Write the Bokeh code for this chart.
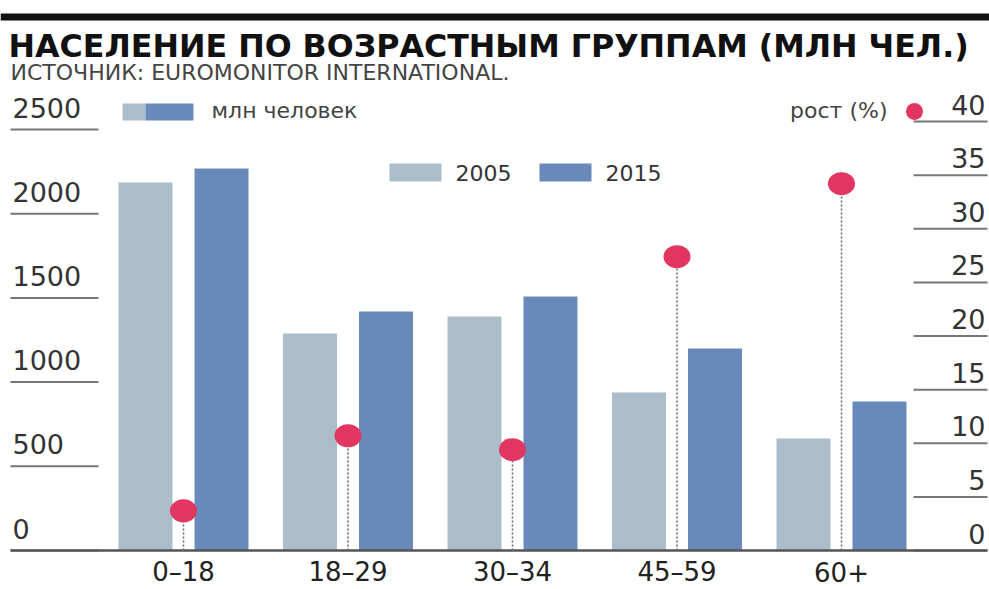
from bokeh.plotting import figure, ColumnDataSource
from bokeh.models import Range1d
from bokeh.transform import dodge
from bokeh.core.properties import value
from bokeh.embed import file_html
from bokeh.resources import INLINE

# ---- data ----
categories = ["0–18", "18–29", "30–34", "45–59", "60+"]
pop_2005 = [2185, 1289, 1390, 938, 665]
pop_2015 = [2268, 1419, 1508, 1199, 885]
growth_pct = [3.7, 10.7, 9.4, 27.4, 34.2]
left_ticks = [0, 500, 1000, 1500, 2000, 2500]
right_ticks = [0, 5, 10, 15, 20, 25, 30, 35, 40]
years = ["2005", "2015"]

title_text = "НАСЕЛЕНИЕ ПО ВОЗРАСТНЫМ ГРУППАМ (МЛН ЧЕЛ.)"
subtitle_text = "ИСТОЧНИК: EUROMONITOR INTERNATIONAL."
legend_units = "млн человек"
legend_growth = "рост (%)"

# ---- style ----
C_LIGHT = "#aabdc9"
C_DARK = "#6889b9"
C_DOT = "#e0365f"
C_TEXT = "#333333"
FONT = value("DejaVu Sans")
BL = 0.37  # baseline correction (fraction of font size)

W, H = 989, 589
p = figure(width=W, height=H, output_backend="svg", toolbar_location=None,
           x_range=Range1d(-1.1125, 4.8997), y_range=Range1d(-231.6, 3266.0),
           x_axis_location=None, y_axis_location=None, min_border=0,
           outline_line_color=None, background_fill_color="white",
           border_fill_color="white")
p.extra_y_ranges = {"pct": Range1d(-3.636, 51.282), "px": Range1d(589, 0)}
p.extra_x_ranges = {"px": Range1d(0, 989)}
p.xgrid.visible = False
p.ygrid.visible = False

n = len(categories)
src = ColumnDataSource(dict(idx=list(range(n)), cat=categories,
                            v05=pop_2005, v15=pop_2015, g=growth_pct,
                            zero=[0] * n))


def txt(x, y, s, size, **kw):
    p.text(x=[x], y=[y - BL * size], text=[s], x_range_name="px", y_range_name="px",
           text_font_size=f"{size}px", text_baseline="alphabetic", **kw)


# top rule and titles
p.segment(x0=[0], x1=[989], y0=[16.5], y1=[16.5], x_range_name="px", y_range_name="px",
          line_color="#111111", line_width=7)
txt(8, 57, title_text, 31.7, text_font=FONT, text_font_style="bold", text_color="#111111")
txt(10, 80, subtitle_text, 22, text_font=FONT, text_color="#444444")

# left axis underlines + labels
p.segment(x0=[10] * len(left_ticks), x1=[98] * len(left_ticks), y0=left_ticks, y1=left_ticks,
          x_range_name="px", line_color="#777777", line_width=2)
p.text(x=[12] * len(left_ticks), y=left_ticks, text=[str(t) for t in left_ticks],
       x_range_name="px", y_offset=-(12 + BL * 27), text_font=FONT, text_font_size="27px",
       text_color=C_TEXT, text_baseline="alphabetic")

# right axis underlines + labels
p.segment(x0=[913] * len(right_ticks), x1=[987] * len(right_ticks), y0=right_ticks, y1=right_ticks,
          x_range_name="px", y_range_name="pct", line_color="#777777", line_width=2)
p.text(x=[985] * len(right_ticks), y=right_ticks, text=[str(t) for t in right_ticks],
       x_range_name="px", y_range_name="pct", y_offset=-(7 + BL * 27), text_font=FONT,
       text_font_size="27px", text_color=C_TEXT, text_align="right",
       text_baseline="alphabetic")

# bars
p.vbar(x=dodge("idx", -0.231, range=p.x_range), top="v05", width=0.328, source=src,
       fill_color=C_LIGHT, line_color=None)
p.vbar(x=dodge("idx", 0.231, range=p.x_range), top="v15", width=0.328, source=src,
       fill_color=C_DARK, line_color=None)

# baseline
p.segment(x0=[10], x1=[987], y0=[0], y1=[0], x_range_name="px",
          line_color="#555555", line_width=2.5)

# growth stems and dots
p.segment(x0="idx", x1="idx", y0="zero", y1="g", y_range_name="pct", source=src,
          line_color="#666666", line_width=1.5, line_dash="2 2")
p.ellipse(x="idx", y="g", width=27, height=23, width_units="screen", height_units="screen",
          y_range_name="pct", source=src, fill_color=C_DOT, line_color=None)

# category labels
p.text(x="idx", y=581 - BL * 26, text="cat", source=src, y_range_name="px",
       text_font=FONT, text_font_size="26px", text_color="#222222",
       text_align="center", text_baseline="alphabetic")

# legend: units
p.quad(left=[122], right=[145], top=[103], bottom=[120], x_range_name="px", y_range_name="px",
       fill_color=C_LIGHT, line_color=None)
p.quad(left=[145], right=[193], top=[103], bottom=[120], x_range_name="px", y_range_name="px",
       fill_color=C_DARK, line_color=None)
txt(211, 118, legend_units, 22, text_font=FONT, text_color="#444444")

# legend: growth
txt(887, 118, legend_growth, 22, text_font=FONT, text_color="#444444", text_align="right")
p.ellipse(x=[914], y=[111], width=17, height=17, width_units="screen", height_units="screen",
          x_range_name="px", y_range_name="px", fill_color=C_DOT, line_color=None)

# legend: years
p.quad(left=[389, 539], right=[441, 591], top=[163, 163], bottom=[181, 181],
       x_range_name="px", y_range_name="px", fill_color=[C_LIGHT, C_DARK], line_color=None)
txt(455, 181, years[0], 22, text_font=FONT, text_color=C_TEXT)
txt(605, 181, years[1], 22, text_font=FONT, text_color=C_TEXT)

open("out.html", "w").write(file_html(p, INLINE))
